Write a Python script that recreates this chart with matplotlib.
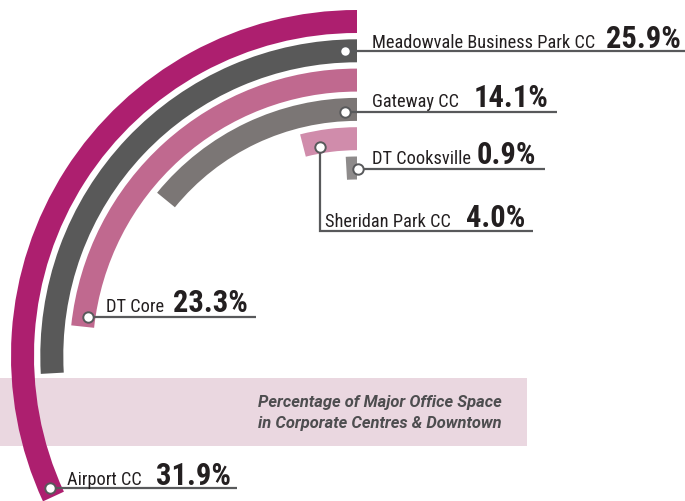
import numpy as np
import matplotlib
matplotlib.use('Agg')
import matplotlib.pyplot as plt
from matplotlib import font_manager as fm
from matplotlib.patches import Rectangle

# ---- data ----
categories = ["Airport CC", "Meadowvale Business Park CC", "DT Core",
              "Gateway CC", "Sheridan Park CC", "DT Cooksville"]
shares = [31.9, 25.9, 23.3, 14.1, 4.0, 0.9]
value_labels = ["31.9%", "25.9%", "23.3%", "14.1%", "4.0%", "0.9%"]
colors = ["#AD1F6F", "#595959", "#C0698F", "#7B7675", "#D08CAB", "#8E8B8B"]
title_lines = ["Percentage of Major Office Space", "in Corporate Centres & Downtown"]

# ---- layout ----
W, H = 685, 502
cx, cy = 357, 357          # ring centre in pixels (from top-left)
R_LIM = 350
OUTER0, STEP, RING_W = 346, 29.3, 23

avail = {f.name for f in fm.fontManager.ttflist}
prefs = ['Roboto Condensed', 'Liberation Sans Narrow', 'DejaVu Sans Condensed',
         'Liberation Sans', 'DejaVu Sans']
font = next(p for p in prefs if p in avail)
plt.rcParams['font.family'] = [font, 'DejaVu Sans']
band_font = 'Roboto' if 'Roboto' in avail else font

fig = plt.figure(figsize=(W / 100, H / 100), dpi=100)

# background band
ax_b = fig.add_axes([0, 0, 1, 1], zorder=0)
ax_b.set_xlim(0, W); ax_b.set_ylim(H, 0); ax_b.axis('off')
ax_b.add_patch(Rectangle((0, 379), 527, 68, facecolor='#EAD7E0', edgecolor='none'))

# polar ring bars
ax_p = fig.add_axes([(cx - R_LIM) / W, (H - cy - R_LIM) / H, 2 * R_LIM / W, 2 * R_LIM / H],
                    projection='polar', zorder=1)
ax_p.set_theta_zero_location('N')
ax_p.set_theta_direction(1)
ax_p.set_ylim(0, R_LIM)
ax_p.axis('off')
for i, (s, c) in enumerate(zip(shares, colors)):
    outer = OUTER0 - i * STEP
    ax_p.bar(0, RING_W, width=2 * np.pi * s / 100, bottom=outer - RING_W,
             align='edge', color=c, linewidth=0)

# foreground annotation layer
ax_f = fig.add_axes([0, 0, 1, 1], zorder=2)
ax_f.set_xlim(0, W); ax_f.set_ylim(H, 0); ax_f.axis('off')
ax_f.patch.set_alpha(0)

line_c = '#58595B'
text_c = '#231F20'
# per item: dot angle (deg), dot radial offset, label x, baseline y, pct x, line end x, elbow y
layout = [
    (113.3, -0.5, 67, 485, 156, 237, None),
    (2.3, 0, 372, 48, 606, 685, None),
    (81.7, -4, 106, 312, 173, 256, None),
    (2.8, -2, 372, 107, 474, 557, None),
    (10.0, -5, 325, 227, 466, 533, 232),
    (-0.3, -1, 372, 164, 477, 545, None),
]
for i, (cat, vl) in enumerate(zip(categories, value_labels)):
    a, dr, lx, by, px, lend, elbow = layout[i]
    r = OUTER0 - i * STEP - RING_W / 2 + dr
    dx = cx - r * np.sin(np.radians(a))
    dy = cy - r * np.cos(np.radians(a))
    if elbow is None:
        ax_f.plot([dx, lend], [dy, dy], color=line_c, lw=1.6, solid_capstyle='butt', zorder=3)
    else:
        ax_f.plot([dx, dx, lend], [dy, elbow, elbow], color=line_c, lw=1.6,
                  solid_capstyle='butt', solid_joinstyle='miter', zorder=3)
    ax_f.plot(dx, dy, 'o', ms=7.5, mfc='white', mec=line_c, mew=1.4, zorder=4)
    ax_f.text(lx, by, cat, fontsize=13.2, color=text_c, ha='left', va='baseline')
    ax_f.text(px, by, vl, fontsize=22, fontweight='bold', color=text_c,
              ha='left', va='baseline')

for j, t in enumerate(title_lines):
    ax_f.text(258, 407 + j * 21, t, fontsize=11.9, fontweight='bold', fontstyle='italic',
              family=[band_font, 'DejaVu Sans'], color='#4D4D4F', ha='left', va='baseline')

fig.savefig('out.png', dpi=100)
